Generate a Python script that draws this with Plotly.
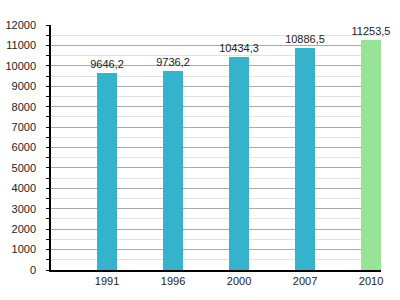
import plotly.graph_objects as go

years = ["1991", "1996", "2000", "2007", "2010"]
values = [9646.2, 9736.2, 10434.3, 10886.5, 11253.5]
labels = ["9646,2", "9736,2", "10434,3", "10886,5", "11253,5"]
colors = ["#35b3cc", "#35b3cc", "#35b3cc", "#35b3cc", "#98e496"]
y_ticks = list(range(0, 12001, 1000))

xs = list(range(len(years)))

fig = go.Figure()
fig.add_trace(go.Bar(
    x=xs, y=values, width=0.3, marker=dict(color=colors, line=dict(width=0)),
    text=labels, textposition="outside", cliponaxis=False, constraintext="none",
    textfont=dict(family="Liberation Sans, Arial, sans-serif", size=11, color="#222"),
))
fig.update_layout(
    width=400, height=300,
    margin=dict(l=51, r=19, t=25, b=30, autoexpand=False),
    plot_bgcolor="white", paper_bgcolor="white",
    showlegend=False,
    font=dict(family="Liberation Sans, Arial, sans-serif", size=11, color="#222"),
    bargap=0,
)
fig.update_xaxes(
    range=[-0.85, 4.15], tickvals=xs, ticktext=years,
    showgrid=False, showline=True, linecolor="black", linewidth=1.5,
    ticks="", zeroline=False, automargin=False,
)
fig.update_yaxes(
    range=[0, 12000], tickvals=y_ticks, ticktext=[str(v) for v in y_ticks],
    showgrid=True, gridcolor="#aaaaaa", gridwidth=1,
    showline=True, linecolor="black", linewidth=1.5,
    ticks="outside", ticklen=3, tickcolor="black",
    minor=dict(dtick=500, showgrid=True, gridcolor="#e2e2e2", ticks="outside", ticklen=3, tickcolor="black"),
    zeroline=False, ticklabelstandoff=8, automargin=False,
)
fig.write_html("out.html")
